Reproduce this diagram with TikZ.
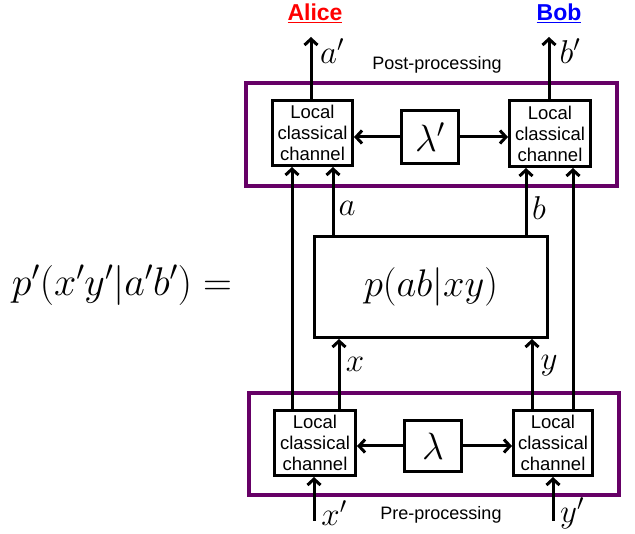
\RequirePackage{fix-cm}
\documentclass[tikz,border=0pt]{standalone}
\usepackage{fontspec}
\setsansfont{Liberation Sans}
\usetikzlibrary{arrows.meta}
\definecolor{ppurple}{RGB}{102,0,102}
\definecolor{alicered}{RGB}{255,0,0}
\definecolor{bobblue}{RGB}{0,0,255}
\begin{document}
\begin{tikzpicture}[x=1pt,y=-1pt,
  arr/.style={line width=3pt,-{Straight Barb[length=6pt,width=13pt,line width=3pt]}},
  chan/.style={draw,line width=3pt,inner sep=0pt,align=center,
    font=\sffamily\fontsize{18.5}{21}\selectfont},
  lam/.style={draw,line width=3pt,inner sep=0pt,font=\fontsize{38}{40}\selectfont},
  proc/.style={draw=ppurple,line width=4.5pt,inner sep=0pt},
  lbl/.style={inner sep=0pt,font=\fontsize{33}{36}\selectfont},
  captxt/.style={inner sep=0pt,font=\sffamily\fontsize{18}{20}\selectfont},
  who/.style={inner sep=0pt,font=\sffamily\bfseries\fontsize{23}{25}\selectfont}]
\useasboundingbox (0,0) rectangle (635,534);
% purple frames
\node[proc,minimum width=371pt,minimum height=103pt] (post) at (431.5,134.5) {};
\node[proc,minimum width=370pt,minimum height=102pt] (pre) at (434,444) {};
% top boxes
\node[chan,minimum width=80pt,minimum height=65pt] (tl) at (312.5,133) {Local\\classical\\channel};
\node[lam,minimum width=57pt,minimum height=53pt] (lp) at (430,137) {$\lambda'$};
\node[chan,minimum width=81pt,minimum height=66pt] (tr) at (550,133.5) {Local\\classical\\channel};
% bottom boxes
\node[chan,minimum width=81pt,minimum height=65pt] (bl) at (315,443) {Local\\classical\\channel};
\node[lam,minimum width=57pt,minimum height=51pt] (lb) at (433,446) {$\lambda$};
\node[chan,minimum width=79pt,minimum height=65pt] (br) at (553,443) {Local\\classical\\channel};
% central box
\node[draw,line width=3pt,minimum width=233pt,minimum height=101pt,inner sep=0pt,
  font=\fontsize{38.5}{42}\selectfont] (pb) at (431,287) {$p(ab|xy)$};
% equation
\node[inner sep=0pt,font=\fontsize{40}{44}\selectfont] (eq) at (122,285) {$p'(x'y'|a'b') =$};
% captions
\node[captxt] (postcap) at (437,65) {Post-processing};
\node[captxt] (precap) at (441,515) {Pre-processing};
\node[who,text=alicered] (alice) at (315,13) {\underline{Alice}};
\node[who,text=bobblue] (bob) at (559,13) {\underline{Bob}};
% helper coordinates
\coordinate (xo1) at (292,0);
\coordinate (xa) at (333,0);
\coordinate (xx) at (339,0);
\coordinate (xb) at (526,0);
\coordinate (xy) at (532,0);
\coordinate (xo2) at (573,0);
\coordinate (atop) at (311,37);
\coordinate (btop) at (549,37);
\coordinate (xin) at (314,521);
\coordinate (yin) at (553,521);
% output arrows
\draw[arr] (tl.north -| atop) -- (atop);
\draw[arr] (tr.north -| btop) -- (btop);
\node[lbl] (ap) at (332,51) {$a'$};
\node[lbl] (bp) at (570,51) {$b'$};
% lambda arrows
\draw[arr] (lp.west) -- (tl.east |- lp.west);
\draw[arr] (lp.east) -- (tr.west |- lp.east);
\draw[arr] (lb.west) -- (bl.east |- lb.west);
\draw[arr] (lb.east) -- (br.west |- lb.east);
% box outputs
\draw[arr] (pb.north -| xa) -- (tl.south -| xa);
\draw[arr] (pb.north -| xb) -- (tr.south -| xb);
\node[lbl] (la) at (347,208) {$a$};
\node[lbl] (lbb) at (539,208) {$b$};
% box inputs
\draw[arr] (bl.north -| xx) -- (pb.south -| xx);
\draw[arr] (br.north -| xy) -- (pb.south -| xy);
\node[lbl] (lx) at (355,364) {$x$};
\node[lbl] (ly) at (549,366) {$y$};
% outer lines
\draw[arr] (bl.north -| xo1) -- (tl.south -| xo1);
\draw[arr] (br.north -| xo2) -- (tr.south -| xo2);
% inputs
\draw[arr] (xin) -- (bl.south -| xin);
\draw[arr] (yin) -- (br.south -| yin);
\node[lbl] (xp) at (334,513) {$x'$};
\node[lbl] (yp) at (572,513) {$y'$};
\end{tikzpicture}
\end{document}
